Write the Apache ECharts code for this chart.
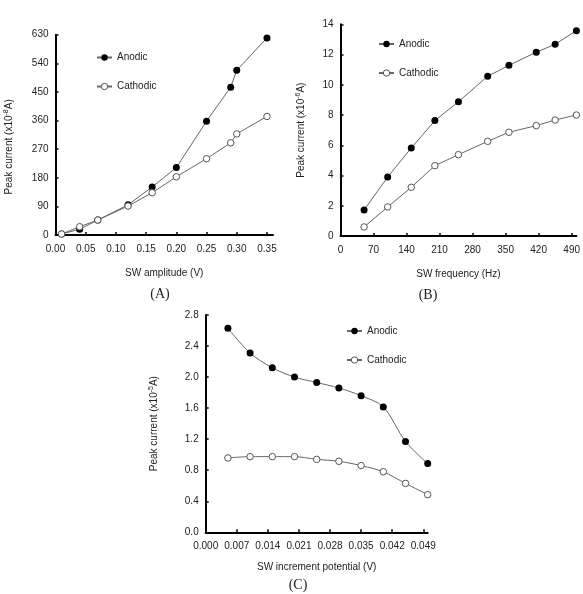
<!DOCTYPE html>
<html>
<head>
<meta charset="utf-8">
<script src="https://cdn.jsdelivr.net/npm/echarts@6/dist/echarts.min.js"></script>
<style>
  html, body { margin: 0; padding: 0; background: #fff; }
  #chart { width: 583px; height: 594px; }
</style>
</head>
<body>
<div id="chart"></div>
<script>
// (A) SW amplitude
var ampX = [0.01, 0.04, 0.07, 0.12, 0.16, 0.20, 0.25, 0.29, 0.30, 0.35]
var ampAnodic = [3, 18, 47, 95, 151, 212, 358, 465, 518, 620]
var ampCathodic = [3, 26, 47, 91, 133, 183, 240, 290, 318, 373]
var ampTicks = [0, 0.05, 0.10, 0.15, 0.20, 0.25, 0.30, 0.35]

// (B) SW frequency
var freqX = [50, 100, 150, 200, 250, 312, 357, 415, 455, 500]
var freqAnodic = [1.72, 3.90, 5.82, 7.63, 8.88, 10.56, 11.29, 12.15, 12.68, 13.58]
var freqCathodic = [0.60, 1.92, 3.22, 4.65, 5.38, 6.26, 6.86, 7.30, 7.67, 8.00]
var freqTicks = [0, 70, 140, 210, 280, 350, 420, 490]

// (C) SW increment potential
var incX = [0.005, 0.010, 0.015, 0.020, 0.025, 0.030, 0.035, 0.040, 0.045, 0.050]
var incAnodic = [2.63, 2.31, 2.12, 2.00, 1.93, 1.86, 1.76, 1.615, 1.17, 0.885]
var incCathodic = [0.958, 0.975, 0.975, 0.975, 0.94, 0.915, 0.86, 0.78, 0.63, 0.485]
var incTicks = [0, 0.007, 0.014, 0.021, 0.028, 0.035, 0.042, 0.049]

var font = 'Liberation Sans, Arial, sans-serif'
var textColor = '#222'

function zip(xs, ys) {
  return xs.map(function(x, i) { return [x, ys[i]] })
}

function xAxis(idx, max, ticks, digits, name, gap) {
  return {
    gridIndex: idx,
    type: 'value',
    min: 0,
    max: max,
    name: name,
    nameLocation: 'middle',
    nameGap: gap,
    nameTextStyle: { fontFamily: font, fontSize: 10, color: textColor },
    axisLine: { lineStyle: { color: '#000', width: 2 } },
    axisTick: { inside: true, length: 3, customValues: ticks, lineStyle: { color: '#000', width: 1.5 } },
    axisLabel: {
      customValues: ticks,
      margin: 9,
      fontFamily: font,
      fontSize: 10,
      color: textColor,
      formatter: function(v) { return digits ? v.toFixed(digits) : String(v) }
    },
    splitLine: { show: false }
  }
}

// exponent goes in as a rich-text superscript
function yAxis(idx, max, interval, digits, exp, gap, pad) {
  return {
    gridIndex: idx,
    type: 'value',
    min: 0,
    max: max,
    interval: interval,
    name: '{t|Peak current (x10}{s|' + exp + '}{t|A)}',
    nameLocation: 'middle',
    nameGap: gap,
    nameTextStyle: {
      padding: pad,
      rich: {
        t: { fontFamily: font, fontSize: 10, color: textColor, lineHeight: 13 },
        s: { fontFamily: font, fontSize: 7, color: textColor, lineHeight: 8, verticalAlign: 'top' }
      }
    },
    axisLine: { show: true, lineStyle: { color: '#000', width: 2 } },
    axisTick: { show: true, inside: true, length: 3, lineStyle: { color: '#000', width: 1.5 } },
    axisLabel: {
      margin: 7,
      fontFamily: font,
      fontSize: 10,
      color: textColor,
      formatter: function(v) { return digits ? v.toFixed(digits) : String(v) }
    },
    splitLine: { show: false }
  }
}

function series(name, idx, data, smooth) {
  var anodic = name === 'Anodic'
  return {
    name: name,
    type: 'line',
    xAxisIndex: idx,
    yAxisIndex: idx,
    data: data,
    smooth: smooth ? 0.3 : false,
    symbol: 'circle',
    symbolSize: anodic ? 7 : 6.5,
    lineStyle: { color: '#666', width: 1 },
    itemStyle: anodic
      ? { color: '#000' }
      : { color: '#fff', borderColor: '#555', borderWidth: 1 },
    animation: false
  }
}

function legend(left, top) {
  return {
    orient: 'vertical',
    left: left,
    top: top,
    itemWidth: 15,
    itemHeight: 8,
    itemGap: 19,
    itemStyle: { borderWidth: 1 },
    textStyle: { fontFamily: font, fontSize: 10, color: textColor },
    data: ['Anodic', 'Cathodic']
  }
}

var chart = echarts.init(document.getElementById('chart'))
chart.setOption({
  backgroundColor: '#fff',
  animation: false,
  grid: [
    { left: 55.5, top: 34.7, width: 217.5, height: 200.3 },
    { left: 340.5, top: 24.3, width: 237, height: 211.7 },
    { left: 205.7, top: 315, width: 222, height: 217.3 }
  ],
  xAxis: [
    xAxis(0, 0.36, ampTicks, 2, 'SW amplitude (V)', 33),
    xAxis(1, 500, freqTicks, 0, 'SW frequency (Hz)', 33),
    xAxis(2, 0.05, incTicks, 3, 'SW increment potential (V)', 30)
  ],
  yAxis: [
    yAxis(0, 630, 90, 0, '-8', 40, [0, 24, 0, 0]),
    yAxis(1, 14, 2, 0, '-6', 33, 0),
    yAxis(2, 2.8, 0.4, 1, '-5', 45, 0)
  ],
  legend: [
    legend(91, 47.5),
    legend(373, 34),
    legend(341, 321)
  ],
  series: [
    series('Anodic', 0, zip(ampX, ampAnodic)),
    series('Cathodic', 0, zip(ampX, ampCathodic)),
    series('Anodic', 1, zip(freqX, freqAnodic)),
    series('Cathodic', 1, zip(freqX, freqCathodic)),
    series('Anodic', 2, zip(incX, incAnodic), true),
    series('Cathodic', 2, zip(incX, incCathodic), true)
  ],
  graphic: [
    { type: 'text', x: 160, y: 294, style: { text: '(A)', font: '14px "Liberation Serif", serif', fill: '#222', textAlign: 'center', textVerticalAlign: 'middle' } },
    { type: 'text', x: 428, y: 295, style: { text: '(B)', font: '14px "Liberation Serif", serif', fill: '#222', textAlign: 'center', textVerticalAlign: 'middle' } },
    { type: 'text', x: 298, y: 585, style: { text: '(C)', font: '14px "Liberation Serif", serif', fill: '#222', textAlign: 'center', textVerticalAlign: 'middle' } }
  ]
})
</script>
</body>
</html>
